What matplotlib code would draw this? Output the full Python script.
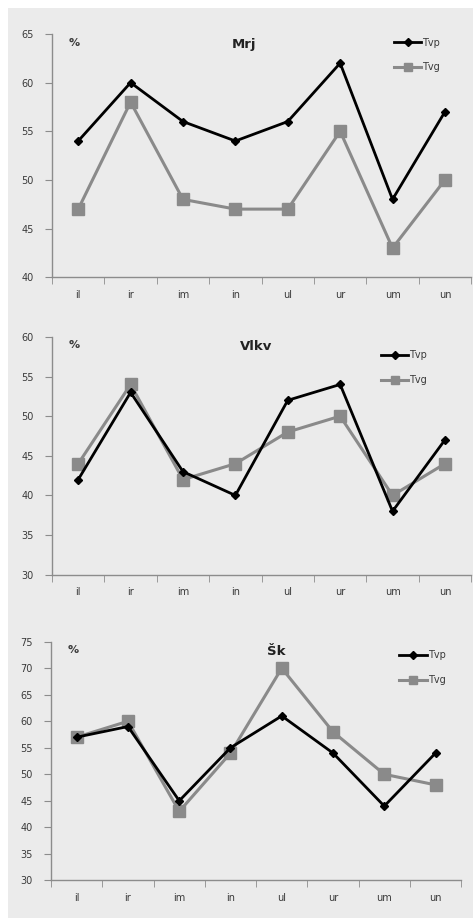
import matplotlib
matplotlib.use('Agg')
import matplotlib.pyplot as plt
import numpy as np
from matplotlib.patches import Rectangle

cats = ['il', 'ir', 'im', 'in', 'ul', 'ur', 'um', 'un']

titles = ['Mrj', 'Vlkv', 'Šk']
mrj_tvp = [54, 60, 56, 54, 56, 62, 48, 57]
mrj_tvg = [47, 58, 48, 47, 47, 55, 43, 50]
vlkv_tvp = [42, 53, 43, 40, 52, 54, 38, 47]
vlkv_tvg = [44, 54, 42, 44, 48, 50, 40, 44]
sk_tvp = [57, 59, 45, 55, 61, 54, 44, 54]
sk_tvg = [57, 60, 43, 54, 70, 58, 50, 48]
ylims = [(40, 65), (30, 60), (30, 75)]

bg = '#ebebeb'
axcol = '#8c8c8c'
txtcol = '#3a3a3a'

fig = plt.figure(figsize=(4.73, 9.18), dpi=100)
fig.patches.append(Rectangle((8/473, 0), 1, 1 - 8/918, transform=fig.transFigure,
                             facecolor=bg, edgecolor='none', zorder=-10))

# axes rectangles [left, bottom, width, height] in figure fraction
boxes = [[0.110, 0.698, 0.886, 0.265],
         [0.110, 0.374, 0.886, 0.259],
         [0.108, 0.041, 0.867, 0.260]]
data = [(mrj_tvp, mrj_tvg), (vlkv_tvp, vlkv_tvg), (sk_tvp, sk_tvg)]
title_x = [0.458, 0.487, 0.55]
leg_anchor = [(0.947, 1.02), (0.916, 0.98), (0.983, 1.0)]

for i in range(3):
    ax = fig.add_axes(boxes[i])
    ax.set_facecolor(bg)
    tvp, tvg = data[i]
    x = np.arange(len(cats))
    ax.plot(x, tvp, color='black', lw=2, marker='D', ms=4.5, label='Tvp', zorder=4)
    ax.plot(x, tvg, color='#8a8a8a', lw=2.2, marker='s', ms=8, label='Tvg', zorder=3)
    ax.set_xlim(-0.5, 7.5)
    ax.set_ylim(*ylims[i])
    ax.set_yticks(np.arange(ylims[i][0], ylims[i][1] + 1, 5))
    ax.set_xticks(x)
    ax.set_xticklabels(cats)
    ax.set_xticks(np.arange(-0.5, 8, 1), minor=True)
    ax.tick_params(axis='x', which='major', length=0, pad=9, labelsize=7, colors=txtcol)
    ax.tick_params(axis='x', which='minor', length=5, color=axcol, direction='out')
    ax.tick_params(axis='y', length=5, color=axcol, labelsize=7, labelcolor=txtcol, pad=8)
    for s in ['top', 'right']:
        ax.spines[s].set_visible(False)
    for s in ['left', 'bottom']:
        ax.spines[s].set_color(axcol)
        ax.spines[s].set_linewidth(1)
    ax.text(0.04, 0.985, '%', transform=ax.transAxes, fontsize=8, fontweight='bold',
            color=txtcol, va='top')
    ax.text(title_x[i], 0.985, titles[i], transform=ax.transAxes, fontsize=9.5,
            fontweight='bold', color='#222222', va='top', ha='center')
    ax.legend(loc='upper right', bbox_to_anchor=leg_anchor[i], frameon=False, fontsize=7,
              handlelength=2.8, handletextpad=0.1, labelspacing=1.5, markerscale=0.8,
              labelcolor=txtcol)

fig.savefig('out.png', dpi=100)
